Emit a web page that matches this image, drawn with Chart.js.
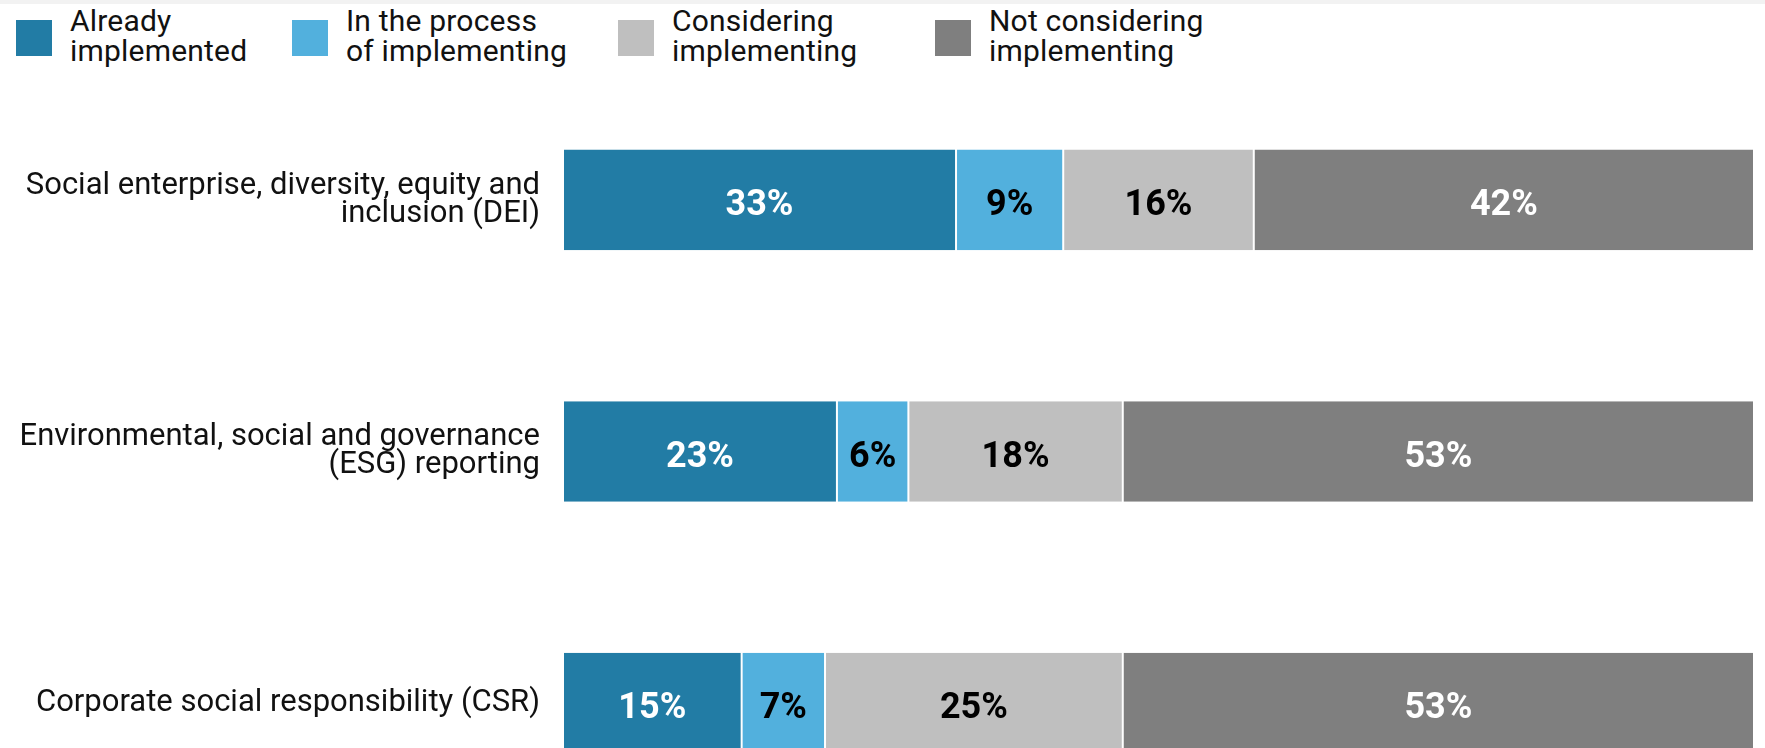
<!DOCTYPE html>
<html>
<head>
<meta charset="utf-8">
<script src="https://cdn.jsdelivr.net/npm/chart.js@4.4.0/dist/chart.umd.min.js"></script>
<style>
    html, body { margin: 0; padding: 0; background: #fff; overflow: hidden; }
    body { width: 1765px; height: 748px; position: relative; font-family: Roboto, sans-serif; }
    #topline { position: absolute; left: 0; top: 0; width: 1765px; height: 4px; background: #f2f2f2; }
    .legend-box { position: absolute; top: 20px; width: 36px; height: 36px; }
    .legend-text { position: absolute; top: 6px; font-size: 30px; line-height: 30px; color: #111; white-space: nowrap; letter-spacing: 0.2px; }
    #chartWrap { position: absolute; left: 0; top: 74px; width: 1765px; height: 755px; }
</style>
</head>
<body>
<div id="topline"></div>
<div id="legend"></div>
<div id="chartWrap"><canvas id="chartCanvas"></canvas></div>
<script>
// Categories (y axis), each split into two lines
const categories = [
    ["Social enterprise, diversity, equity and", "inclusion (DEI)"],
    ["Environmental, social and governance", "(ESG) reporting"],
    ["Corporate social responsibility (CSR)"]
];

const seriesNames = [
    ["Already", "implemented"],
    ["In the process", "of implementing"],
    ["Considering", "implementing"],
    ["Not considering", "implementing"]
];

// Percent values per series, one per category
const alreadyImplemented = [33, 23, 15];
const inProcess = [9, 6, 7];
const considering = [16, 18, 25];
const notConsidering = [42, 53, 53];

const seriesColors = ["#227ca5", "#52b0dd", "#bfbfbf", "#7f7f7f"];
const labelColors = ["#ffffff", "#000000", "#000000", "#ffffff"];

// Legend (two-line labels, so built in HTML)
function buildLegend() {
    const legend = document.getElementById("legend");
    const boxLeft = [16, 292, 618, 935];
    seriesNames.forEach((name, i) => {
        const box = document.createElement("div");
        box.className = "legend-box";
        box.style.left = boxLeft[i] + "px";
        box.style.background = seriesColors[i];
        legend.appendChild(box);

        const txt = document.createElement("div");
        txt.className = "legend-text";
        txt.style.left = (boxLeft[i] + 54) + "px";
        txt.innerHTML = name.join("<br>");
        legend.appendChild(txt);
    });
}
buildLegend();

// Draw percentage labels in the middle of each segment
const barLabels = {
    id: "barLabels",
    afterDatasetsDraw(chart) {
        const ctx = chart.ctx;
        ctx.save();
        ctx.font = "bold 36px Roboto, sans-serif";
        ctx.textAlign = "center";
        ctx.textBaseline = "middle";
        chart.data.datasets.forEach((ds, i) => {
            chart.getDatasetMeta(i).data.forEach((bar, j) => {
                const x = (bar.x + bar.base) / 2;
                ctx.fillStyle = labelColors[i];
                ctx.fillText(Math.round(ds.data[j]) + "%", x, bar.y + 6);
            });
        });
        ctx.restore();
    }
};

const allSeries = [alreadyImplemented, inProcess, considering, notConsidering];

const ctx = document.getElementById("chartCanvas").getContext("2d");
new Chart(ctx, {
    type: "bar",
    data: {
        labels: categories,
        datasets: allSeries.map((values, i) => ({
            label: seriesNames[i].join(" "),
            data: values,
            backgroundColor: seriesColors[i],
            borderColor: "#ffffff",
            borderWidth: { left: 1, right: 1, top: 0, bottom: 0 },
            borderSkipped: false,
            categoryPercentage: 0.4,
            barPercentage: 1
        }))
    },
    options: {
        indexAxis: "y",
        responsive: true,
        maintainAspectRatio: false,
        animation: false,
        layout: { padding: { left: 0, right: 11, top: 0, bottom: 0 } },
        plugins: {
            legend: { display: false },
            tooltip: { enabled: false }
        },
        scales: {
            x: {
                stacked: true,
                min: 0,
                max: 100,
                display: false
            },
            y: {
                stacked: true,
                border: { display: false },
                grid: { display: false, drawTicks: false },
                ticks: {
                    padding: 23,
                    color: "#111",
                    font: { family: "Roboto, sans-serif", size: 31, lineHeight: 0.9 }
                },
                afterFit(scale) {
                    scale.width = 563;
                    scale.paddingTop = 0;
                    scale.paddingBottom = 0;
                }
            }
        }
    },
    plugins: [barLabels]
});
</script>
</body>
</html>
